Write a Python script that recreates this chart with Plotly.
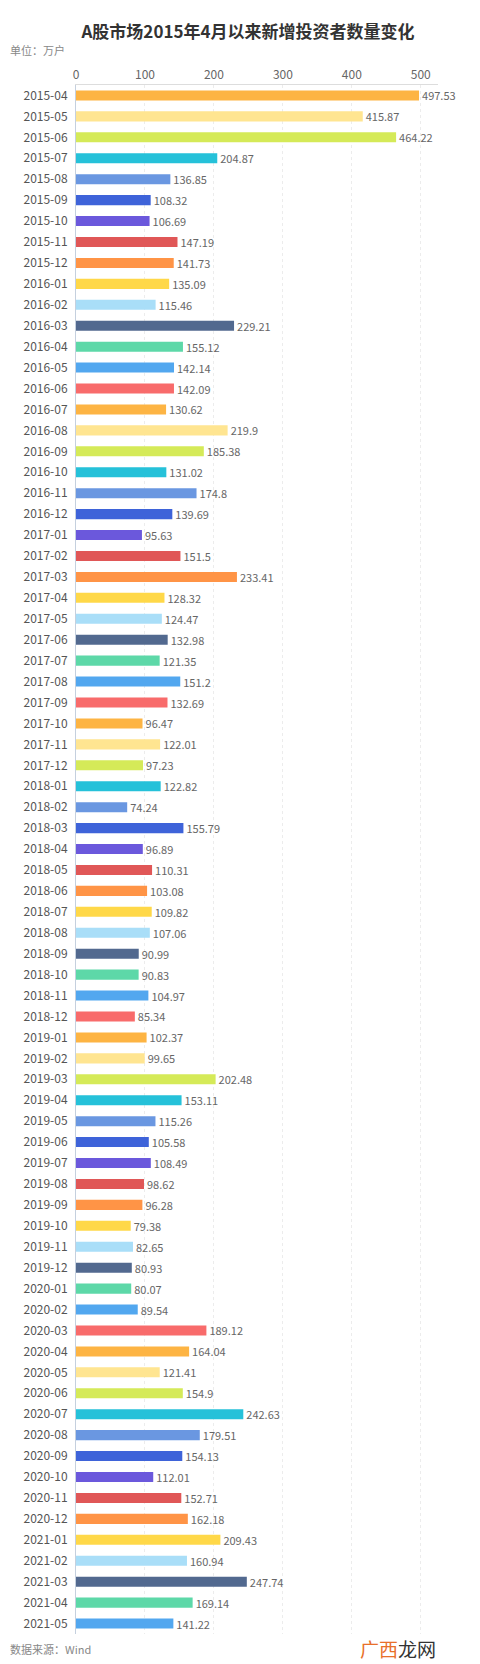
import plotly.graph_objects as go

months = [
    "2015-04","2015-05","2015-06","2015-07","2015-08","2015-09","2015-10","2015-11","2015-12",
    "2016-01","2016-02","2016-03","2016-04","2016-05","2016-06","2016-07","2016-08","2016-09","2016-10","2016-11","2016-12",
    "2017-01","2017-02","2017-03","2017-04","2017-05","2017-06","2017-07","2017-08","2017-09","2017-10","2017-11","2017-12",
    "2018-01","2018-02","2018-03","2018-04","2018-05","2018-06","2018-07","2018-08","2018-09","2018-10","2018-11","2018-12",
    "2019-01","2019-02","2019-03","2019-04","2019-05","2019-06","2019-07","2019-08","2019-09","2019-10","2019-11","2019-12",
    "2020-01","2020-02","2020-03","2020-04","2020-05","2020-06","2020-07","2020-08","2020-09","2020-10","2020-11","2020-12",
    "2021-01","2021-02","2021-03","2021-04","2021-05",
]
new_investors = [
    497.53, 415.87, 464.22, 204.87, 136.85, 108.32, 106.69, 147.19, 141.73,
    135.09, 115.46, 229.21, 155.12, 142.14, 142.09, 130.62, 219.9, 185.38, 131.02, 174.8, 139.69,
    95.63, 151.5, 233.41, 128.32, 124.47, 132.98, 121.35, 151.2, 132.69, 96.47, 122.01, 97.23,
    122.82, 74.24, 155.79, 96.89, 110.31, 103.08, 109.82, 107.06, 90.99, 90.83, 104.97, 85.34,
    102.37, 99.65, 202.48, 153.11, 115.26, 105.58, 108.49, 98.62, 96.28, 79.38, 82.65, 80.93,
    80.07, 89.54, 189.12, 164.04, 121.41, 154.9, 242.63, 179.51, 154.13, 112.01, 152.71, 162.18,
    209.43, 160.94, 247.74, 169.14, 141.22,
]
x_ticks = [0, 100, 200, 300, 400, 500]
palette = ["#FDB443", "#FFE591", "#D5EA58", "#25C1D9", "#6A97E1", "#3E63D9", "#6B58DC",
           "#E05757", "#FF9446", "#FFD848", "#A9DEF8", "#52698F", "#5DD8A8", "#52A7EF", "#F86B6B"]

colors = [palette[i % len(palette)] for i in range(len(months))]
labels = [f"{v:g}" for v in new_investors]

FONT = "Noto Sans CJK SC, Noto Sans, sans-serif"

fig = go.Figure(go.Bar(
    y=months, x=new_investors, orientation="h",
    marker=dict(color=colors, line=dict(width=0)),
    text=labels, textposition="outside", cliponaxis=False, constraintext="none",
    textfont=dict(size=11, color="#666666", family=FONT),
    width=0.48, hoverinfo="x+y",
))

fig.update_layout(
    width=480, height=1664,
    margin=dict(l=68, r=50, t=77, b=38, autoexpand=False),
    paper_bgcolor="white", plot_bgcolor="white",
    showlegend=False,
    font=dict(family=FONT, color="#555555"),
    title=dict(text="<b>A股市场2015年4月以来新增投资者数量变化</b>", x=0.5, xanchor="center",
               y=1 - 24 / 1664, yanchor="middle", font=dict(size=17, color="#333333", family=FONT)),
    xaxis=dict(side="top", range=[0, 525], tickvals=x_ticks, ticktext=[str(t) for t in x_ticks],
               showgrid=True, gridcolor="#ECECEC", griddash="dot", gridwidth=1,
               showline=True, linecolor="#DDDDDD", linewidth=1, zeroline=False, automargin=False,
               ticks="", tickfont=dict(size=12, color="#666666"), fixedrange=True),
    yaxis=dict(type="category", autorange="reversed", categoryorder="array", categoryarray=months,
               showline=True, linecolor="#C5D0DE", linewidth=1, showgrid=False, automargin=False,
               ticks="", ticklabelstandoff=5, tickfont=dict(size=12, color="#555555"),
               fixedrange=True),
    annotations=[
        dict(text="单位：万户", xref="paper", yref="paper", x=-68 / 362, y=1 + (77 - 42) / 1549,
             xanchor="left", yanchor="middle", showarrow=False, font=dict(size=11, color="#888888")),
        dict(text="数据来源：Wind", xref="paper", yref="paper", x=-68 / 362, y=-(1641 - 1626) / 1549,
             xanchor="left", yanchor="middle", showarrow=False, font=dict(size=11, color="#888888")),
        dict(text="<span style='color:#E8702A'>广西</span><span style='color:#333333'>龙网</span>",
             xref="paper", yref="paper", x=(350 - 68) / 362, y=-(1640 - 1626) / 1549,
             xanchor="left", yanchor="middle", showarrow=False, font=dict(size=19)),
    ],
)

fig.write_html("out.html")
